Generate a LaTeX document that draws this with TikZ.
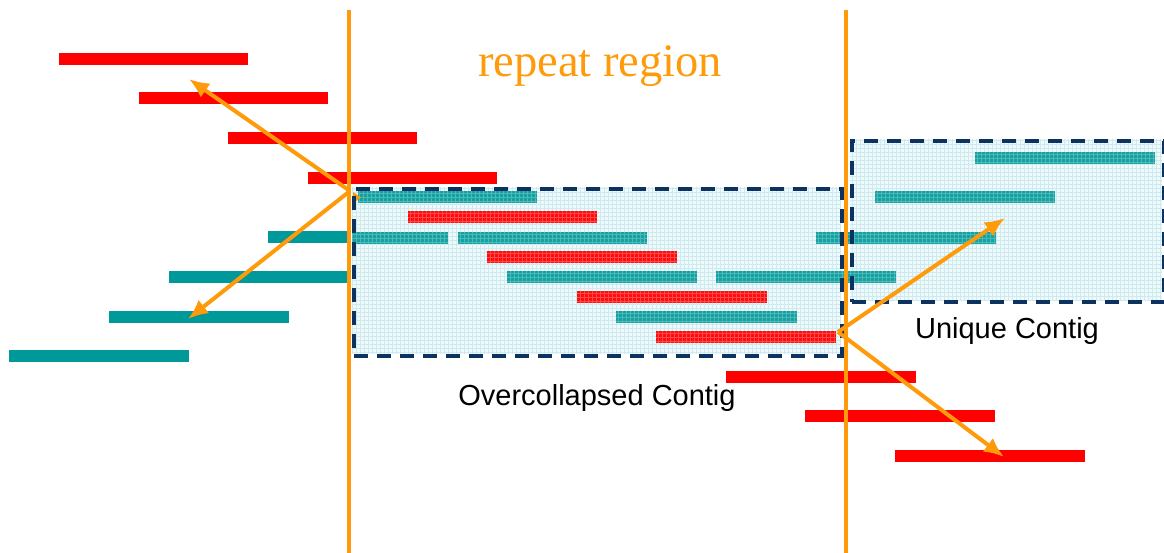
\documentclass[tikz,border=0pt]{standalone}
\usepackage{fontspec}
\setmainfont{Liberation Serif}
\newfontfamily\arialf{Liberation Sans}
\usetikzlibrary{arrows.meta}
\definecolor{barred}{RGB}{255,0,0}
\definecolor{barteal}{RGB}{0,153,153}
\definecolor{navy}{RGB}{12,50,95}
\definecolor{orng}{RGB}{255,155,10}
\definecolor{boxbg}{RGB}{240,249,251}
\definecolor{boxgrid}{RGB}{205,234,238}
\tikzset{
  barbase/.style={inner sep=0pt, outer sep=0pt, minimum height=12.5pt, anchor=west, draw=none},
  rbar/.style={barbase, fill=barred},
  tbar/.style={barbase, fill=barteal},
  patgrid/.style={path picture={\draw[white, opacity=0.25, line width=0.5pt, step=4pt]
      (path picture bounding box.south west) grid (path picture bounding box.north east);}},
  rpat/.style={rbar, patgrid, fill=barred!95!white},
  tpat/.style={tbar, patgrid, fill=barteal!92!white},
  contig/.style={draw=navy, line width=4pt, dash pattern=on 14pt off 9pt},
  orline/.style={draw=orng, line width=4pt},
  orarrow/.style={draw=orng, line width=4pt, -{Latex[length=20pt,width=17pt]}},
  sanslabel/.style={font=\arialf\fontsize{29}{33}\selectfont, text=black, anchor=base, inner sep=0pt},
}
\begin{document}
\begin{tikzpicture}[x=1pt,y=-1pt]
\useasboundingbox (0,0) rectangle (1164,553);
% contig box backgrounds
\fill[boxbg] (352,187) rectangle (840,354);
\draw[boxgrid, line width=0.5pt, step=4pt] (352,187) grid (840,354);
\fill[boxbg] (850,139) rectangle (1162,300);
\draw[boxgrid, line width=0.5pt, step=4pt] (850,139) grid (1162,300);
% solid red reads
\node[rbar, minimum width=189pt] (r1) at (59,59) {};
\node[rbar, minimum width=189pt] (r2) at (139,98) {};
\node[rbar, minimum width=189pt] (r3) at (228,138) {};
\node[rbar, minimum width=189pt] (r4) at (308,178) {};
\node[rbar, minimum width=190pt] (r5) at (726,377) {};
\node[rbar, minimum width=190pt] (r6) at (805,416) {};
\node[rbar, minimum width=190pt] (r7) at (895,456) {};
% solid teal reads
\node[tbar, minimum width=80pt] (t1) at (268,237) {};
\node[tbar, minimum width=179pt] (t2) at (169,277) {};
\node[tbar, minimum width=180pt] (t3) at (109,317) {};
\node[tbar, minimum width=180pt] (t4) at (9,356) {};
% patterned reads in the overcollapsed contig
\node[tpat, minimum width=179pt] (p1) at (358,197) {};
\node[rpat, minimum width=189pt] (p2) at (408,217) {};
\node[tpat, minimum width=96pt] (p3) at (352,238) {};
\node[tpat, minimum width=189pt] (p4) at (458,238) {};
\node[rpat, minimum width=190pt] (p5) at (487,257) {};
\node[tpat, minimum width=190pt] (p6) at (507,277) {};
\node[tpat, minimum width=180pt] (p7) at (716,277) {};
\node[rpat, minimum width=190pt] (p8) at (577,297) {};
\node[tpat, minimum width=181pt] (p9) at (616,317) {};
\node[rpat, minimum width=180pt] (p10) at (656,337) {};
\node[tpat, minimum width=180pt] (p11) at (816,238) {};
% patterned reads in the unique contig
\node[tpat, minimum width=180pt] (u1) at (975,158) {};
\node[tpat, minimum width=180pt] (u2) at (875,197) {};
% small orange tip at the left contig edge
\fill[orng] (353,192) -- (361,197.5) -- (353,203) -- cycle;
% dashed contig outlines
\node[contig, inner sep=0pt, minimum width=488pt, minimum height=167pt, anchor=north west] (over) at (352,187) {};
\node[contig, inner sep=0pt, minimum width=312pt, minimum height=161pt, anchor=north west] (uniq) at (850,139) {};
% repeat boundaries
\coordinate (v1t) at (349,10);
\coordinate (v1b) at (349,553);
\coordinate (v2t) at (846,10);
\coordinate (v2b) at (846,553);
\draw[orline] (v1t) -- (v1b);
\draw[orline] (v2t) -- (v2b);
% arrows
\coordinate (L) at (350,191);
\coordinate (R) at (838,332);
\coordinate (aL1) at (189,79);
\coordinate (aL2) at (188,319);
\coordinate (aR1) at (1005,218);
\coordinate (aR2) at (1004,457);
\draw[orarrow] (L) -- (aL1);
\draw[orarrow] (L) -- (aL2);
\draw[orarrow] (R) -- (aR1);
\draw[orarrow] (R) -- (aR2);
% labels
\node[anchor=base, inner sep=0pt, text=orng, font=\fontsize{46.5}{50}\selectfont] (rr) at (600,77) {repeat region};
\node[sanslabel] (ol) at (597,405) {Overcollapsed Contig};
\node[sanslabel] (ul) at (1007,338) {Unique Contig};
\end{tikzpicture}
\end{document}
